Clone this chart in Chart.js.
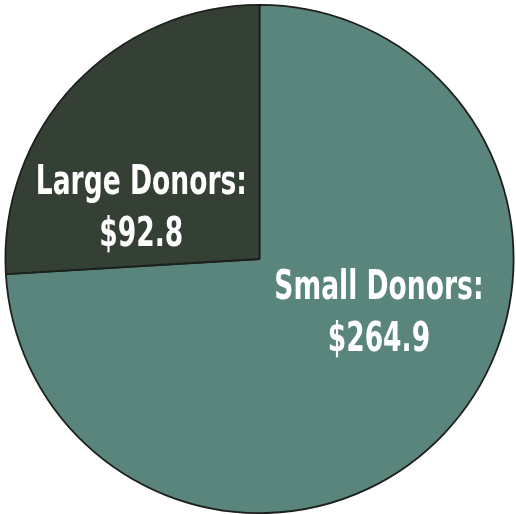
<!DOCTYPE html>
<html>
<head>
<meta charset="utf-8">
<script src="https://cdn.jsdelivr.net/npm/chart.js@4/dist/chart.umd.min.js"></script>
<style>
  html, body { margin: 0; padding: 0; background: #ffffff; }
  #wrap { width: 516px; height: 514px; }
</style>
</head>
<body>
<div id="wrap"><canvas id="pieChart" width="516" height="514"></canvas></div>
<script>
// donor totals (in $)
const categories = ["Small Donors", "Large Donors"];
const amounts = [264.9, 92.8];
const sliceColors = ["#5a857c", "#334033"];

// label placement relative to pie center, as fraction of radius
const labelSpots = [
  { dx: 0.47, dy: 0.215 },
  { dx: -0.465, dy: -0.2 },
];

const sliceLabels = {
  id: "sliceLabels",
  afterDatasetsDraw(chart) {
    const ctx = chart.ctx;
    const arcs = chart.getDatasetMeta(0).data;
    const squeeze = 0.72; // narrow the font to look condensed
    ctx.save();
    ctx.fillStyle = "#ffffff";
    ctx.textAlign = "center";
    ctx.textBaseline = "middle";
    ctx.font = "bold 41px 'DejaVu Sans Condensed', 'DejaVu Sans', sans-serif";
    arcs.forEach((arc, i) => {
      const r = arc.outerRadius;
      const x = arc.x + labelSpots[i].dx * r;
      const y = arc.y + labelSpots[i].dy * r;
      ctx.save();
      ctx.translate(x, y);
      ctx.scale(squeeze, 1);
      ctx.fillText(categories[i] + ":", 0, -25);
      ctx.fillText("$" + amounts[i].toFixed(1), 0, 27);
      ctx.restore();
    });
    ctx.restore();
  },
};

new Chart(document.getElementById("pieChart").getContext("2d"), {
  type: "pie",
  data: {
    labels: categories,
    datasets: [
      {
        data: amounts,
        backgroundColor: sliceColors,
        borderColor: "#1c1f1c",
        borderWidth: 1.8,
      },
    ],
  },
  options: {
    responsive: false,
    animation: false,
    layout: { padding: { left: 4, right: 1, top: 4, bottom: 0 } },
    plugins: {
      legend: { display: false },
      tooltip: { enabled: false },
    },
  },
  plugins: [sliceLabels],
});
</script>
</body>
</html>
